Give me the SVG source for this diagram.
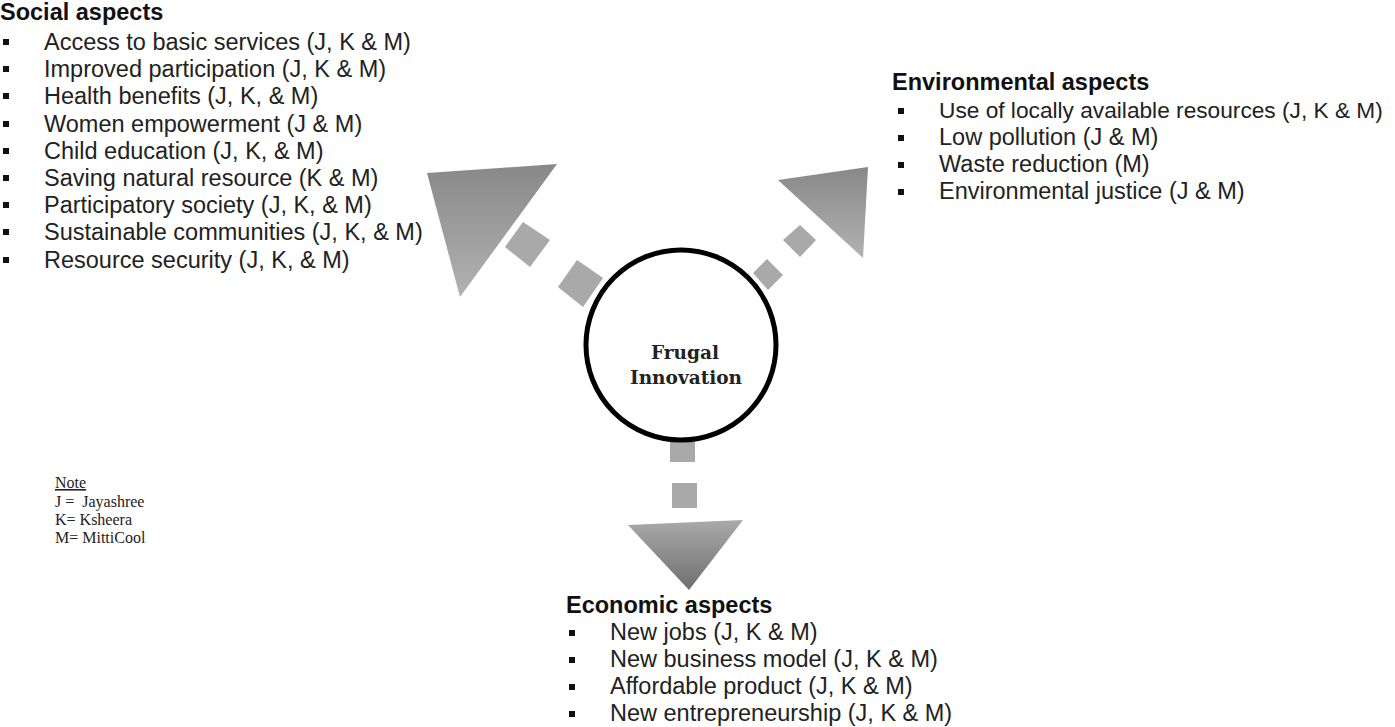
<svg xmlns="http://www.w3.org/2000/svg" width="1395" height="727" viewBox="0 0 1395 727">
<style>
.h{font-family:"Liberation Sans",Arial,sans-serif;font-weight:bold;font-size:23.5px;fill:#111}
.t{font-family:"Liberation Sans",Arial,sans-serif;font-size:23.5px;fill:#222}
.b{fill:#111}
.n{font-family:"Liberation Serif","Times New Roman",serif;font-size:16px;fill:#222}
.c{font-family:"DejaVu Serif",serif;font-weight:bold;font-size:18.5px;fill:#222}
.d{fill:#a9a9a9}
</style>
<defs>
<linearGradient id="gDown" x1="0" y1="0" x2="0" y2="1">
<stop offset="0" stop-color="#888"/><stop offset="1" stop-color="#b2b2b2"/>
</linearGradient>
<linearGradient id="gUp" x1="0" y1="0" x2="0" y2="1">
<stop offset="0" stop-color="#aaa"/><stop offset="1" stop-color="#6e6e6e"/>
</linearGradient>
</defs>
<rect width="1395" height="727" fill="#fff"/>
<g id="connectors">
<polygon points="427,173 557,164 460,297" fill="url(#gDown)"/>
<polygon class="d" points="505,247 523,222 550,240 530,267"/>
<polygon class="d" points="558,287 577,260 603,278 583,307"/>
<polygon points="778,180 868,167 863,258" fill="url(#gDown)"/>
<polygon class="d" points="783,240 800,225 816,240 800,257"/>
<polygon class="d" points="753,273 767,259 783,275 768,290"/>
<rect class="d" x="670" y="440" width="25" height="22"/>
<rect class="d" x="672" y="483" width="25" height="25"/>
<polygon points="628,525 743,520 689,590" fill="url(#gUp)"/>
</g>
<g id="center">
<circle cx="681" cy="345" r="95" fill="#fff" stroke="#000" stroke-width="5"/>
<text class="c" x="685" y="359" text-anchor="middle">Frugal</text>
<text class="c" x="686" y="384" text-anchor="middle">Innovation</text>
</g>
<g id="social">
<text class="h" x="0" y="20">Social aspects</text>
<rect class="b" x="3" y="39" width="6" height="6"/><text class="t" x="44" y="50">Access to basic services (J, K &amp; M)</text>
<rect class="b" x="3" y="66" width="6" height="6"/><text class="t" x="44" y="77">Improved participation (J, K &amp; M)</text>
<rect class="b" x="3" y="93" width="6" height="6"/><text class="t" x="44" y="104">Health benefits (J, K, &amp; M)</text>
<rect class="b" x="3" y="121" width="6" height="6"/><text class="t" x="44" y="132">Women empowerment (J &amp; M)</text>
<rect class="b" x="3" y="148" width="6" height="6"/><text class="t" x="44" y="159">Child education (J, K, &amp; M)</text>
<rect class="b" x="3" y="175" width="6" height="6"/><text class="t" x="44" y="186">Saving natural resource (K &amp; M)</text>
<rect class="b" x="3" y="202" width="6" height="6"/><text class="t" x="44" y="213">Participatory society (J, K, &amp; M)</text>
<rect class="b" x="3" y="229" width="6" height="6"/><text class="t" x="44" y="240">Sustainable communities (J, K, &amp; M)</text>
<rect class="b" x="3" y="257" width="6" height="6"/><text class="t" x="44" y="268">Resource security (J, K, &amp; M)</text>
</g>
<g id="environmental">
<text class="h" x="892" y="90">Environmental aspects</text>
<rect class="b" x="898" y="108" width="6" height="6"/><text class="t" x="939" y="118" style="font-size:22.7px">Use of locally available resources (J, K &amp; M)</text>
<rect class="b" x="898" y="135" width="6" height="6"/><text class="t" x="939" y="145">Low pollution (J &amp; M)</text>
<rect class="b" x="898" y="162" width="6" height="6"/><text class="t" x="939" y="172">Waste reduction (M)</text>
<rect class="b" x="898" y="189" width="6" height="6"/><text class="t" x="939" y="199">Environmental justice (J &amp; M)</text>
</g>
<g id="economic">
<text class="h" x="566" y="613">Economic aspects</text>
<rect class="b" x="569" y="630" width="6" height="6"/><text class="t" x="610" y="640">New jobs (J, K &amp; M)</text>
<rect class="b" x="569" y="657" width="6" height="6"/><text class="t" x="610" y="667">New business model (J, K &amp; M)</text>
<rect class="b" x="569" y="684" width="6" height="6"/><text class="t" x="610" y="694">Affordable product (J, K &amp; M)</text>
<rect class="b" x="569" y="711" width="6" height="6"/><text class="t" x="610" y="721">New entrepreneurship (J, K &amp; M)</text>
</g>
<g id="note">
<text class="n" x="55" y="488" text-decoration="underline">Note</text>
<text class="n" x="55" y="507" xml:space="preserve">J =  Jayashree</text>
<text class="n" x="55" y="525">K= Ksheera</text>
<text class="n" x="55" y="543">M= MittiCool</text>
</g>
</svg>
